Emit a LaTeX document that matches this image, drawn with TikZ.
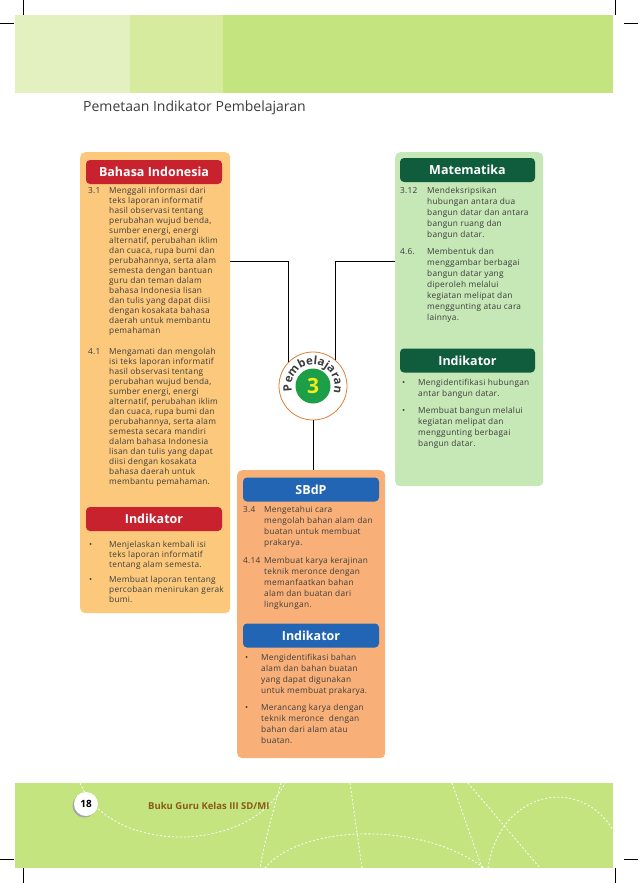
\documentclass[tikz,border=0pt]{standalone}
\usepackage{fontspec}
\setmainfont{Open Sans}
\newfontfamily\bodyfont[LetterSpace=3]{Open Sans}
\usetikzlibrary{calc, positioning}
\usetikzlibrary{decorations.text}
\definecolor{bandlight}{HTML}{E3F1C1}
\definecolor{bandmid}{HTML}{D7EB9F}
\definecolor{bandmain}{HTML}{C3E47F}
\definecolor{biorange}{HTML}{FCC97C}
\definecolor{mtgreen}{HTML}{C6E7B6}
\definecolor{sborange}{HTML}{F8B078}
\definecolor{bired}{HTML}{C8222E}
\definecolor{mtdark}{HTML}{0F5D3D}
\definecolor{sbblue}{HTML}{2265B5}
\definecolor{ringorange}{HTML}{DC7F38}
\definecolor{numgreen}{HTML}{1D9F48}
\definecolor{numyellow}{HTML}{F4EC1A}
\definecolor{inkgray}{HTML}{3C3C3C}
\definecolor{footbrown}{HTML}{8A5A16}

\begin{document}
\begin{tikzpicture}[x=1pt, y=-1pt,
  panel/.style={rounded corners=5pt, anchor=north west, inner sep=0pt},
  pill/.style={rounded corners=4pt, minimum width=136pt, minimum height=24pt, inner sep=0pt,
    text=white, font=\fontsize{12.5}{12.5}\selectfont\bfseries},
  body/.style={anchor=north west, inner sep=0pt, align=left, text=inkgray, font=\bodyfont\fontsize{8.3}{11}\selectfont},
  num/.style={body, text height=6.3pt, text depth=1.8pt},
  tight/.style={font=\bodyfont\fontsize{8.3}{10}\selectfont},
  link/.style={draw=black, line width=0.7pt},
  crop/.style={line width=0.5pt},
  footdash/.style={draw=white, line width=0.8pt, dash pattern=on 2pt off 2pt}]
\useasboundingbox (0,0) rectangle (638,883);

\draw[crop] (23,0) -- (23,15);
\draw[crop] (0,23) -- (14,23);
\draw[crop] (615,0) -- (615,15);
\draw[crop] (624,23) -- (638,23);
\draw[crop] (0,859) -- (14,859);
\draw[crop] (23,868) -- (23,883);
\draw[crop] (615,868) -- (615,883);
\draw[crop] (624,859) -- (638,859);

\fill[bandlight] (15,15) rectangle (130,93);
\fill[bandmid] (130,15) rectangle (223,93);
\fill[bandmain] (223,15) rectangle (613,93);

\node[anchor=west, inner sep=0pt, text=inkgray, font=\fontsize{14}{14}\selectfont] (title) at (83,108) {Pemetaan Indikator Pembelajaran};

\node[panel, fill=biorange, minimum width=150pt, minimum height=461pt] (bibox) at (80,152) {};
\node[panel, fill=mtgreen, minimum width=148pt, minimum height=334pt] (mtbox) at (395,152) {};
\node[panel, fill=sborange, minimum width=148pt, minimum height=288pt] (sbbox) at (237,470) {};

\node[pill, fill=bired] (bihead) at (154,172) {Bahasa Indonesia};
\node[pill, fill=bired] (biind) at (154,519) {Indikator};
\node[pill, fill=mtdark, minimum width=135pt] (mthead) at (467.5,170) {Matematika};
\node[pill, fill=mtdark, minimum width=135pt] (mtind) at (467.5,360.5) {Indikator};
\node[pill, fill=sbblue] (sbhead) at (311,489.5) {SBdP};
\node[pill, fill=sbblue] (sbind) at (311,635.5) {Indikator};

\node[num, tight] (bi31) at (88,186.5) {3.1};
\node[body, tight] (bi31t) at (109,186.5) {Menggali informasi dari\\teks laporan informatif\\hasil observasi tentang\\perubahan wujud benda,\\sumber energi, energi\\alternatif, perubahan iklim\\dan cuaca, rupa bumi dan\\perubahannya, serta alam\\semesta dengan bantuan\\guru dan teman dalam\\bahasa Indonesia lisan\\dan tulis yang dapat diisi\\dengan kosakata bahasa\\daerah untuk membantu\\pemahaman};
\node[num, tight] (bi41) at (88,347.5) {4.1};
\node[body, tight] (bi41t) at (109,347.5) {Mengamati dan mengolah\\isi teks laporan informatif\\hasil observasi tentang\\perubahan wujud benda,\\sumber energi, energi\\alternatif, perubahan iklim\\dan cuaca, rupa bumi dan\\perubahannya, serta alam\\semesta secara mandiri\\dalam bahasa Indonesia\\lisan dan tulis yang dapat\\diisi dengan kosakata\\bahasa daerah untuk\\membantu pemahaman.};
\node[num, tight] (bib1) at (89,540.5) {•};
\node[body, tight] (bib1t) at (109,540.5) {Menjelaskan kembali isi\\teks laporan informatif\\tentang alam semesta.};
\node[num, tight] (bib2) at (89,575.5) {•};
\node[body, tight] (bib2t) at (109,575.5) {Membuat laporan tentang\\percobaan menirukan gerak\\bumi.};

\node[num] (mt312) at (400,186.5) {3.12};
\node[body] (mt312t) at (427,186.5) {Mendeksripsikan\\hubungan antara dua\\bangun datar dan antara\\bangun ruang dan\\bangun datar.};
\node[num] (mt46) at (400,247.5) {4.6.};
\node[body] (mt46t) at (427,247.5) {Membentuk dan\\menggambar berbagai\\bangun datar yang\\diperoleh melalui\\kegiatan melipat dan\\menggunting atau cara\\lainnya.};
\node[num] (mtb1) at (402,378.5) {•};
\node[body] (mtb1t) at (418,378.5) {Mengidentifikasi hubungan\\antar bangun datar.};
\node[num] (mtb2) at (402,406.5) {•};
\node[body] (mtb2t) at (418,406.5) {Membuat bangun melalui\\kegiatan melipat dan\\menggunting berbagai\\bangun datar.};

\node[num] (sb34) at (243,505.5) {3.4};
\node[body] (sb34t) at (264,505.5) {Mengetahui cara\\mengolah bahan alam dan\\buatan untuk membuat\\prakarya.};
\node[num] (sb414) at (243,556.5) {4.14};
\node[body] (sb414t) at (264,556.5) {Membuat karya kerajinan\\teknik meronce dengan\\memanfaatkan bahan\\alam dan buatan dari\\lingkungan.};
\node[num] (sbb1) at (245,653.5) {•};
\node[body] (sbb1t) at (261,653.5) {Mengidentifikasi bahan\\alam dan bahan buatan\\yang dapat digunakan\\untuk membuat prakarya.};
\node[num] (sbb2) at (245,703.5) {•};
\node[body] (sbb2t) at (261,703.5) {Merancang karya dengan\\teknik meronce\ \ dengan\\bahan dari alam atau\\buatan.};

\node[circle, draw=ringorange, line width=0.8pt, fill=white, minimum size=68pt, inner sep=0pt] (circ) at (313,386) {};
\node[circle, fill=numgreen, minimum size=35pt, inner sep=0pt, text=numyellow, font=\fontsize{21}{21}\selectfont\bfseries] (num3) at (circ) {3};
\path[decorate, decoration={text along path, text align={fit to path},
  text={|\fontsize{11.5}{11.5}\selectfont\bfseries\color{inkgray}|Pembelajaran}}]
  ($(circ)+(166:21.5)$) arc[start angle=166, end angle=374, radius=21.5];

\coordinate (tapL) at ($(bibox.north east)+(0,109)$);
\coordinate (tapR) at ($(mtbox.north west)+(0,109)$);
\draw[link] (circ.135) |- (tapL);
\draw[link] (circ.49) |- (tapR);
\draw[link] (circ.south) -- (circ.south |- sbbox.north);

\fill[bandmain] (15,783) rectangle (613,868);
\begin{scope}
\clip (15,783) rectangle (613,868);
\draw[footdash] (80,783) .. controls (110,855) and (250,855) .. (285,783);
\draw[footdash] (281,783) .. controls (272,815) and (265,840) .. (260,868);
\draw[footdash] (350,783) -- (362,868);
\draw[footdash] (265,868) .. controls (300,825) and (420,820) .. (484,868);
\draw[footdash] (452,783) -- (482,868);
\draw[footdash] (468,783) -- (540,868);
\draw[footdash] (488,868) .. controls (500,790) and (580,775) .. (613,830);
\end{scope}
\fill[black!35] (84.5,805.5) circle[radius=12];
\node[circle, fill=white, minimum size=24pt, inner sep=0pt, font=\fontsize{10}{10}\selectfont\bfseries, text=black] (pagenum) at (86,804) {18};
\node[anchor=west, inner sep=0pt, text=footbrown, font=\fontsize{9.5}{9.5}\selectfont\bfseries] (booktitle) at (148,806) {Buku Guru Kelas III SD/MI};
\end{tikzpicture}
\end{document}
